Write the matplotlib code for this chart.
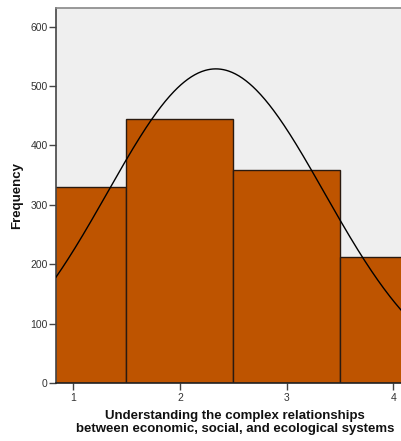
import numpy as np
import matplotlib
matplotlib.use("Agg")
import matplotlib.pyplot as plt

plt.rcParams["font.family"] = ["Liberation Sans", "DejaVu Sans"]

categories = [1, 2, 3, 4]
frequencies = [330, 444, 359, 212]
y_ticks = [0, 100, 200, 300, 400, 500, 600]
x_label = "Understanding the complex relationships\nbetween economic, social, and ecological systems"
y_label = "Frequency"

# normal curve fitted to the histogram data (SPSS-style)
vals = np.array(categories, dtype=float)
f = np.array(frequencies, dtype=float)
n = f.sum()
mean = (vals * f).sum() / n
sd = np.sqrt(((vals - mean) ** 2 * f).sum() / (n - 1))

fig = plt.figure(figsize=(4.02, 4.41), dpi=100)
ax = fig.add_axes([56/402, 1 - 383/441, 1 - 56/402, (383 - 7.5)/441])
ax.set_facecolor("#EFEFEF")

ax.bar(categories, frequencies, width=1.0, color="#BE5400", edgecolor="#2a1a10", linewidth=1.0, zorder=2)

xs = np.linspace(0.84, 4.08, 400)
ys = n * 1.0 / (sd * np.sqrt(2 * np.pi)) * np.exp(-0.5 * ((xs - mean) / sd) ** 2)
ax.plot(xs, ys, color="black", linewidth=1.0, zorder=3)

ax.set_xlim(0.84, 4.08)
ax.set_ylim(0, 632)
ax.set_yticks(y_ticks)
ax.set_xticks(categories)
ax.tick_params(axis="both", direction="out", length=5, width=1, colors="#444444", labelsize=7.5, labelcolor="#333333")
ax.tick_params(axis="x", pad=2)
ax.tick_params(axis="y", pad=1)

ax.spines["top"].set_color("#888888")
ax.spines["top"].set_linewidth(1.2)
ax.spines["right"].set_visible(False)
ax.spines["left"].set_color("#444444")
ax.spines["bottom"].set_color("#222222")
ax.spines["left"].set_linewidth(1.2)
ax.spines["bottom"].set_linewidth(1.2)

fig.text(17/402, 1 - 195/441, y_label, rotation=90, ha="center", va="center",
         fontsize=9.5, fontweight="bold", color="#111111")
fig.text(235/402, 1 - 422.5/441, x_label, ha="center", va="center",
         fontsize=9.5, fontweight="bold", color="#111111", linespacing=1.1)

fig.savefig("out.png", dpi=100)
